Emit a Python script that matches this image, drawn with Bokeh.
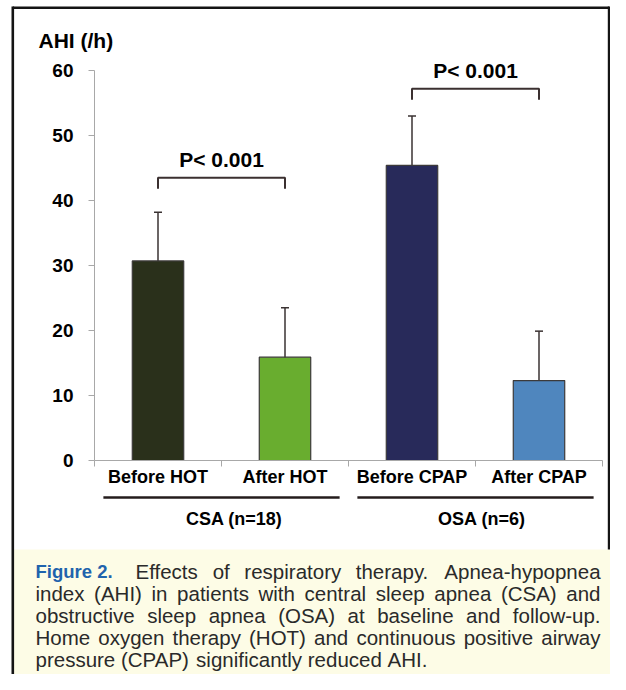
from bokeh.plotting import figure
from bokeh.models import (Range1d, LinearAxis, FixedTicker, CustomJSTickFormatter,
                          ColumnDataSource, Whisker, TeeHead)
from bokeh.core.properties import value
from bokeh.embed import file_html
from bokeh.resources import INLINE

# ---------------- data ----------------
categories = ["Before HOT", "After HOT", "Before CPAP", "After CPAP"]
ahi_mean = [30.7, 15.9, 45.4, 12.3]
ahi_sd = [7.5, 7.6, 7.6, 7.6]
bar_colors = ["#2a301b", "#69ad2f", "#282a5a", "#4f86be"]
groups = ["CSA (n=18)", "OSA (n=6)"]
group_sizes = [2, 2]
group_label_x = [1.6, 3.55]
y_ticks = [0, 10, 20, 30, 40, 50, 60]
p_labels = ["P< 0.001", "P< 0.001"]
bracket_pairs = [(1, 2), (3, 4)]
bracket_levels = [43.5, 57.2]
caption_head = "Figure 2."
caption_lines = [
    "Effects of respiratory therapy. Apnea-hypopnea",
    "index (AHI) in patients with central sleep apnea (CSA) and",
    "obstructive sleep apnea (OSA) at baseline and follow-up.",
    "Home oxygen therapy (HOT) and continuous positive airway",
    "pressure (CPAP) significantly reduced AHI.",
]

# ---------------- layout helpers (canvas pixels -> data) ----------------
W, H = 610, 674
X0_PX, X_PX = 94.0, 127.0     # canvas x of x=0.5, px per category
Y0_PX, Y_PX = 460.0, 6.5      # canvas y of y=0, px per AHI unit


def dx(px):
    return 0.5 + (px - X0_PX) / X_PX


def dy(py):
    return (Y0_PX - py) / Y_PX


FONT = "Liberation Sans"
p = figure(width=W, height=H, title=None, toolbar_location=None, output_backend="svg",
           x_range=Range1d(dx(0), dx(W)), y_range=Range1d(dy(H), dy(0)),
           x_axis_type=None, y_axis_type=None, min_border=0)
p.outline_line_color = None
p.grid.visible = False
p.background_fill_color = "white"
p.border_fill_color = "white"

# caption box and border
CAP_TOP = 549
p.quad(left=[dx(13)], right=[dx(611)], top=[dy(CAP_TOP)], bottom=[dy(H + 10)],
       fill_color="#fdfce6", line_color=None)
p.multi_line(xs=[[dx(12.3), dx(12.3)], [dx(12.3), dx(608.6)], [dx(608.6), dx(608.6)]],
             ys=[[dy(6), dy(H + 10)], [dy(7.2), dy(7.2)], [dy(6), dy(CAP_TOP)]],
             line_color="#141414", line_width=2.6)

# ---------------- axes ----------------
n = len(categories)
xs = list(range(1, n + 1))

yaxis = LinearAxis(fixed_location=0.5, bounds=(y_ticks[0], y_ticks[-1]),
                   ticker=FixedTicker(ticks=y_ticks),
                   axis_line_color="#a8a8a8", major_tick_line_color="#a8a8a8",
                   major_tick_out=6, major_tick_in=0, minor_tick_line_color=None,
                   major_label_text_font=FONT, major_label_text_font_size="19px",
                   major_label_text_font_style="bold", major_label_text_color="black",
                   major_label_standoff=15)
p.add_layout(yaxis, "left")

xtick_axis = LinearAxis(fixed_location=0, bounds=(0.5, n + 0.5),
                        ticker=FixedTicker(ticks=[i + 0.5 for i in range(n + 1)]),
                        formatter=CustomJSTickFormatter(code="return ''"),
                        axis_line_color="#a8a8a8", major_tick_line_color="#a8a8a8",
                        major_tick_out=6, major_tick_in=0, minor_tick_line_color=None)
p.add_layout(xtick_axis, "below")

xlab_axis = LinearAxis(fixed_location=0, ticker=FixedTicker(ticks=xs),
                       formatter=CustomJSTickFormatter(args=dict(labels=categories),
                                                       code="return labels[Math.round(tick) - 1]"),
                       axis_line_color=None, major_tick_line_color=None,
                       major_tick_out=0, major_tick_in=0, minor_tick_line_color=None,
                       major_label_text_font=FONT, major_label_text_font_size="18px",
                       major_label_text_font_style="bold", major_label_text_color="black",
                       major_label_standoff=6)
p.add_layout(xlab_axis, "below")

# ---------------- bars and error bars ----------------
src = ColumnDataSource(dict(x=xs, top=ahi_mean, color=bar_colors,
                            upper=[m + s for m, s in zip(ahi_mean, ahi_sd)],
                            lower=[m - s for m, s in zip(ahi_mean, ahi_sd)]))
p.vbar(x="x", top="top", bottom=0, width=0.405, source=src,
       fill_color="color", line_color="#3c3a3a", line_width=1.2)
ERR = "#3a3232"
p.add_layout(Whisker(source=src, base="x", upper="upper", lower="lower",
                     line_color=ERR, line_width=1.5,
                     upper_head=TeeHead(size=8, line_color=ERR, line_width=1.5),
                     lower_head=TeeHead(size=8, line_color=ERR, line_width=1.5)))

# ---------------- significance brackets ----------------
DROP = 11 / Y_PX
br_xs, br_ys, pt_x, pt_y = [], [], [], []
for (a, b), lvl in zip(bracket_pairs, bracket_levels):
    br_xs.append([a, a, b, b])
    br_ys.append([lvl - DROP, lvl, lvl, lvl - DROP])
    pt_x.append((a + b) / 2)
    pt_y.append(lvl + 18.5 / Y_PX)
p.multi_line(xs=br_xs, ys=br_ys, line_color="#3b3030", line_width=2)
p.text(x=pt_x, y=pt_y, text=p_labels, text_font=value(FONT), text_font_style="bold",
       text_font_size="21px", text_color="black", text_align="center",
       text_baseline="middle")

# y axis title
p.text(x=[dx(38)], y=[dy(39.5)], text=["AHI (/h)"], text_font=value(FONT),
       text_font_style="bold", text_font_size="21px", text_color="black",
       text_align="left", text_baseline="middle")

# ---------------- group lines and labels ----------------
gl_xs, gl_ys = [], []
start = 0.5
for size in group_sizes:
    gl_xs.append([start + 0.07, start + size - 0.07])
    gl_ys.append([dy(497), dy(497)])
    start += size
p.multi_line(xs=gl_xs, ys=gl_ys, line_color="#241c1c", line_width=2.6)
p.text(x=group_label_x, y=[dy(518.5)] * len(groups), text=groups, text_font=value(FONT),
       text_font_style="bold", text_font_size="18px", text_color="black",
       text_align="center", text_baseline="middle")

# ---------------- caption (justified) ----------------
AW = {' ': 278, '(': 333, ')': 333, '-': 333, '.': 278, '/': 278, '<': 584,
      'a': 556, 'b': 556, 'c': 500, 'd': 556, 'e': 556, 'f': 278, 'g': 556, 'h': 556,
      'i': 222, 'j': 222, 'k': 500, 'l': 222, 'm': 833, 'n': 556, 'o': 556, 'p': 556,
      'q': 556, 'r': 333, 's': 500, 't': 278, 'u': 556, 'v': 500, 'w': 722, 'x': 500,
      'y': 500, 'z': 500, 'A': 667, 'B': 667, 'C': 722, 'D': 722, 'E': 667, 'F': 611,
      'G': 778, 'H': 722, 'I': 278, 'O': 778, 'P': 667, 'S': 667, 'T': 611}
CAP_FS = 20.5


def tw(s):
    return sum(AW.get(c, 556) for c in s) * CAP_FS / 1000


centers = [571, 593, 615, 637, 659]
starts = [135, 35, 35, 35, 35]
RIGHT = 600
wx, wy, wt = [], [], []
for i, line in enumerate(caption_lines):
    words = line.split()
    widths = [tw(w) for w in words]
    last = i == len(caption_lines) - 1
    if last or len(words) < 2:
        gap = AW[' '] * CAP_FS / 1000
    else:
        gap = (RIGHT - starts[i] - sum(widths)) / (len(words) - 1)
    x = starts[i]
    for w, wd in zip(words, widths):
        wx.append(dx(x))
        wy.append(dy(centers[i]))
        wt.append(w)
        x += wd + gap
p.text(x=wx, y=wy, text=wt, text_font=value(FONT), text_font_size=f"{CAP_FS}px",
       text_color="#2a2a2a", text_align="left", text_baseline="middle")
p.text(x=[dx(35)], y=[dy(centers[0])], text=[caption_head],
       text_font=value(FONT), text_font_style="bold",
       text_font_size="18.5px", text_color="#1f63ad", text_align="left",
       text_baseline="middle")

open("out.html", "w").write(file_html(p, INLINE))
